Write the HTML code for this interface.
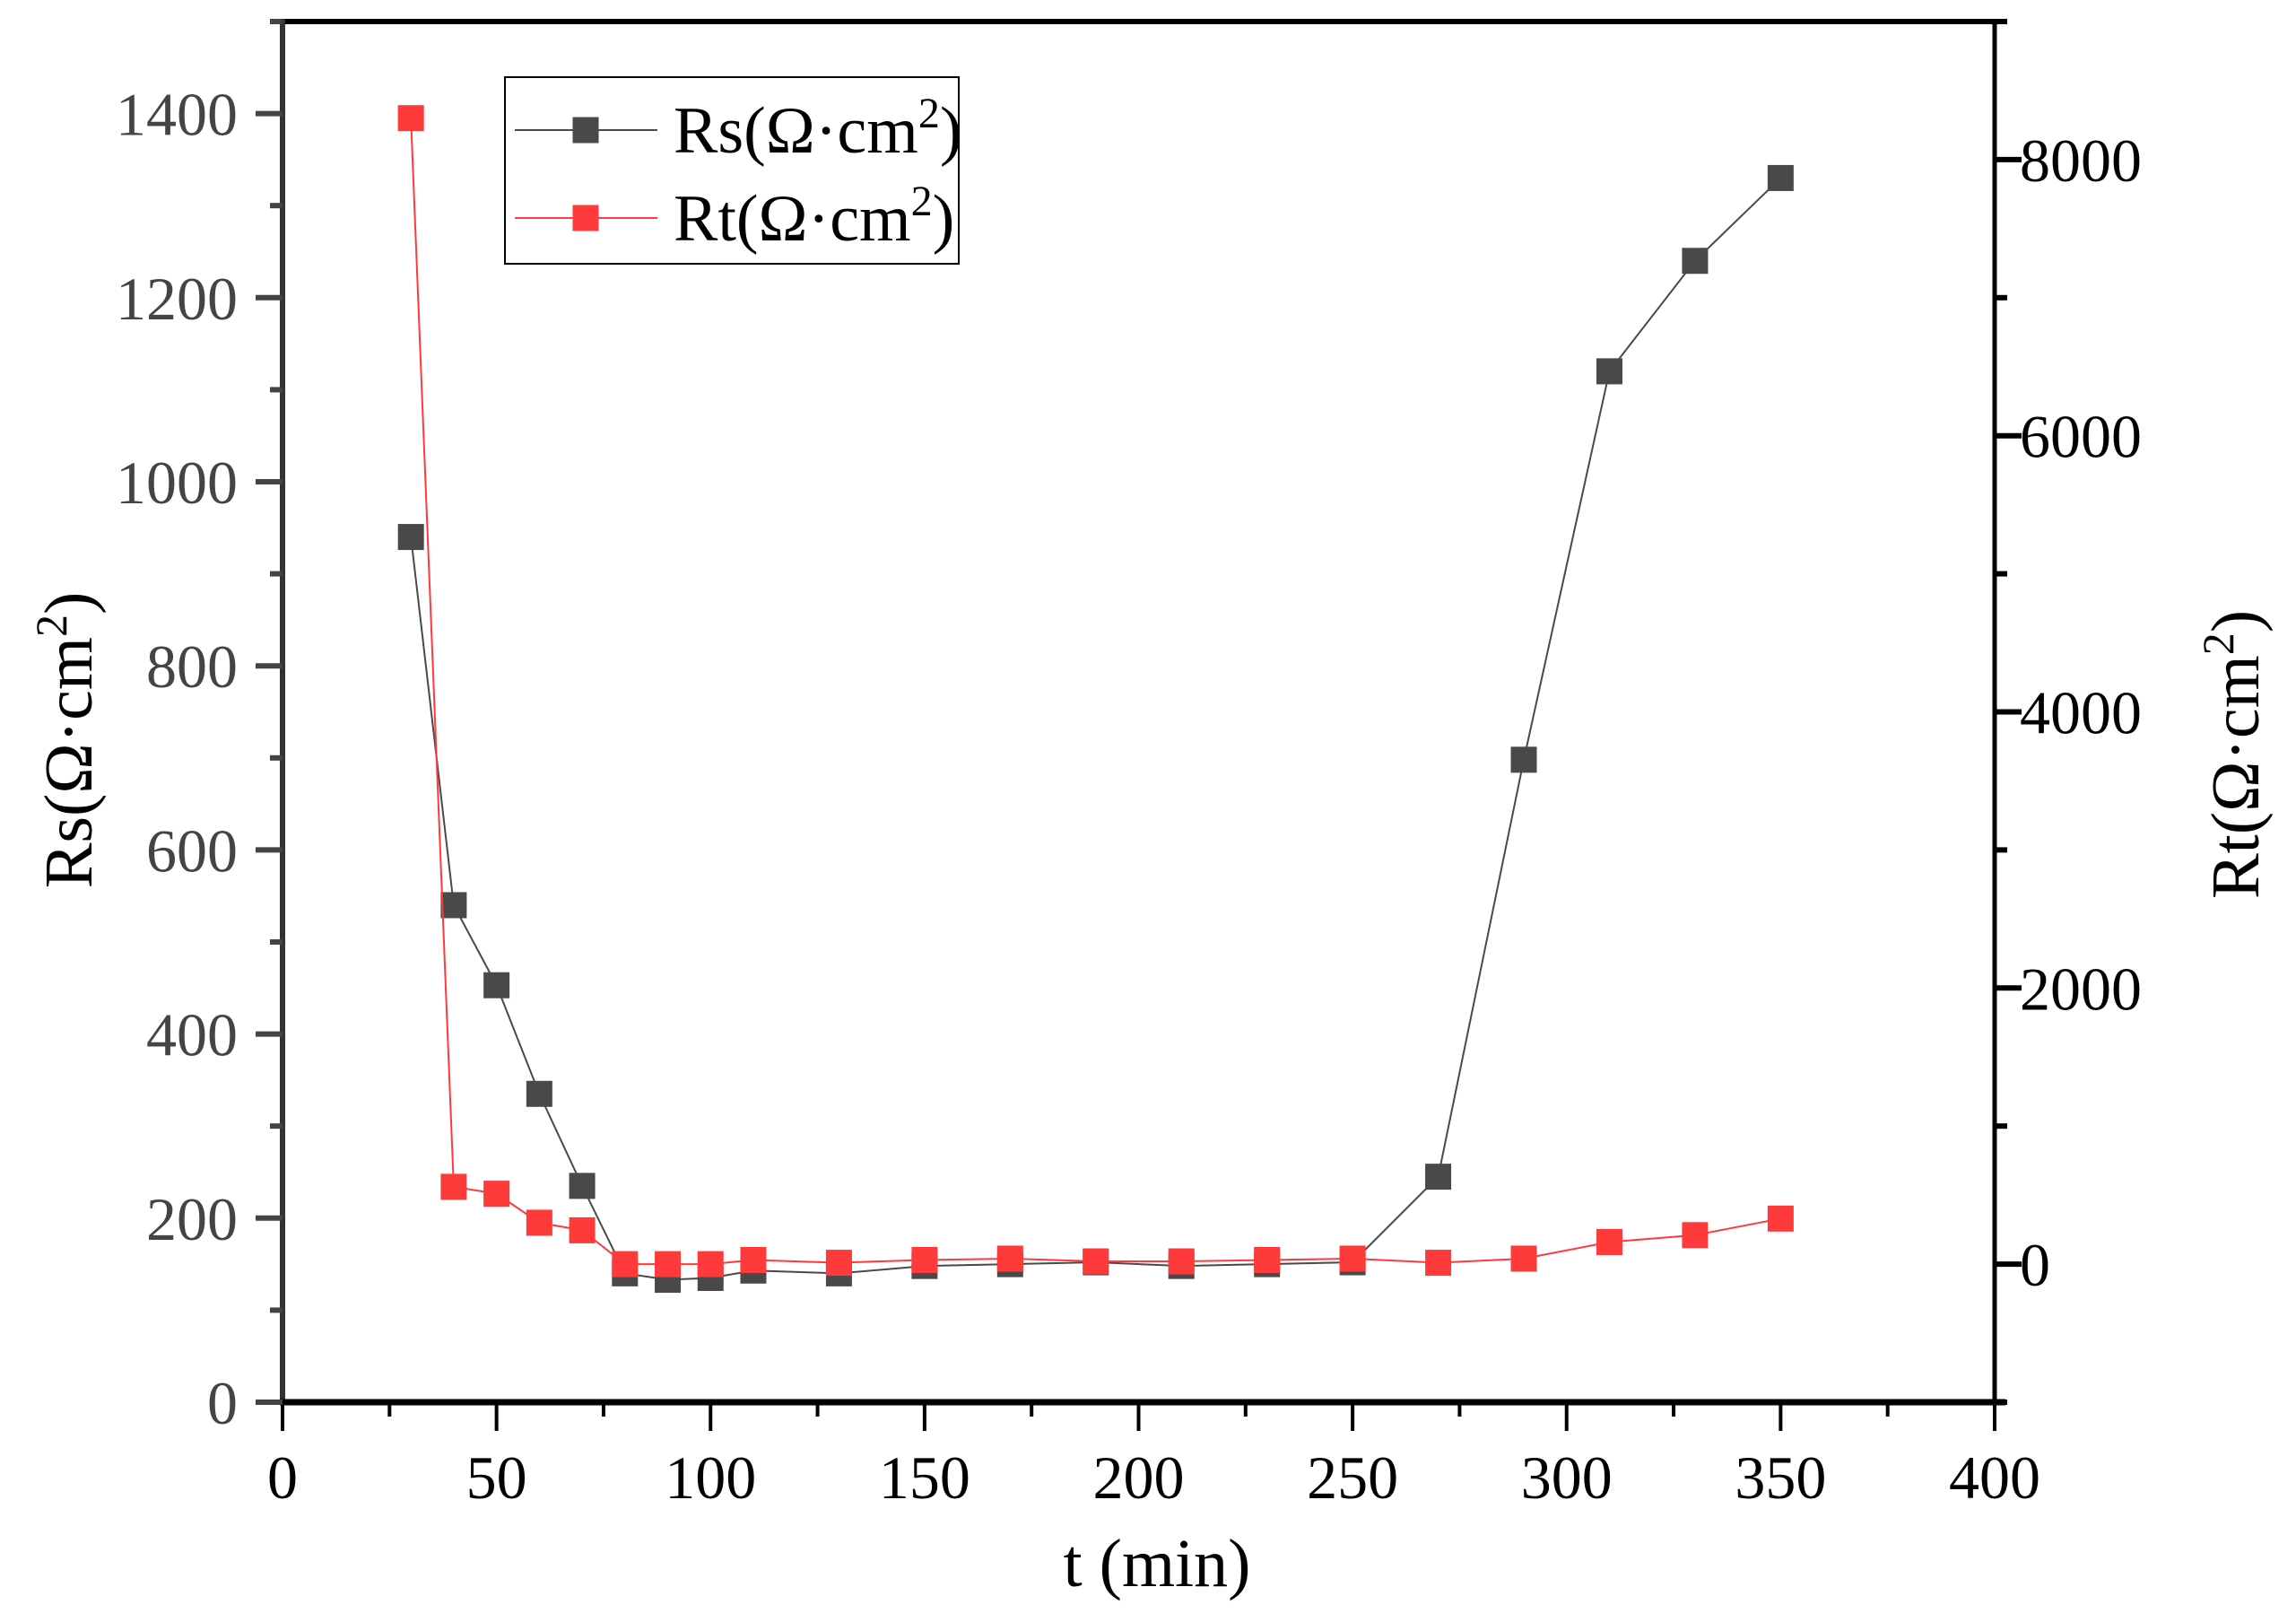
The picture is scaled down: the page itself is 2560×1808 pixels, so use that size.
<!DOCTYPE html>
<html><head><meta charset="utf-8"><style>
html,body{margin:0;padding:0;background:#fff;}
svg{display:block;font-family:"Liberation Serif",serif;}
</style></head><body>
<svg id="chart" width="2560" height="1808" viewBox="0 0 2560 1808" xmlns="http://www.w3.org/2000/svg">
<rect width="2560" height="1808" fill="#fff"/>
<g id="plot"></g>
</svg>
<script>
const times=[30,40,50,60,70,80,90,100,110,130,150,170,190,210,230,250,270,290,310,330,350];
const rsValues=[940,540,453,335,235,140,133,135,143,140,148,150,152,148,150,152,245,698,1120,1240,1330];
const rtValues=[8300,560,510,300,245,0,0,0,30,10,30,40,20,20,30,40,10,40,160,210,330];
const xTicks=[0,50,100,150,200,250,300,350,400];
const yLeftTicks=[0,200,400,600,800,1000,1200,1400];
const yRightTicks=[0,2000,4000,6000,8000];

const L=315,R=2224,T=24,B=1563;
const xS=v=>L+(v-0)/(400-0)*(R-L);
const yL=v=>B-(v-0)/(1500-0)*(B-T);
const yR=v=>B-(v-(-1000))/(9000-(-1000))*(B-T);
const NS='http://www.w3.org/2000/svg';
const g=document.getElementById('plot');
function mk(tag,attrs,parent){const e=document.createElementNS(NS,tag);for(const k in attrs)e.setAttribute(k,attrs[k]);(parent||g).appendChild(e);return e;}

// axes frame
let e;
e=mk('line',{x1:L,y1:T,x2:R+4,y2:T,stroke:'#000','stroke-width':6});


e=mk('line',{x1:R,y1:T-3,x2:R,y2:B+3,stroke:'#000','stroke-width':5});


e=mk('line',{x1:L,y1:T-3,x2:L,y2:B+3,stroke:'#333','stroke-width':6});


e=mk('line',{x1:L-3,y1:B,x2:R+12,y2:B,stroke:'#000','stroke-width':7});



// x ticks
for(let v=0;v<=400;v+=25){
  const major=v%50===0;
  e=mk('line',{x1:xS(v),y1:B,x2:xS(v),y2:B+(major?32:16),stroke:'#000','stroke-width':4});
  
  
}
xTicks.forEach(v=>{
  e=mk('text',{x:xS(v),y:1670,'font-size':68,'text-anchor':'middle',fill:'#000'});
  e.textContent=v;
  
  
});
// left ticks
for(let v=0;v<=1500;v+=100){
  const major=v%200===0;
  e=mk('line',{x1:L,y1:yL(v),x2:L-(major?30:14),y2:yL(v),stroke:'#444','stroke-width':6});
  
  
}
yLeftTicks.forEach(v=>{
  e=mk('text',{x:265,y:yL(v)+24,'font-size':68,'text-anchor':'end',fill:'#444'});
  e.textContent=v;
  
  
});
// right ticks
for(let v=-1000;v<=9000;v+=1000){
  const major=v%2000===0;
  e=mk('line',{x1:R,y1:yR(v),x2:R+(major?30:14),y2:yR(v),stroke:'#000','stroke-width':6});
  
  
}
yRightTicks.forEach(v=>{
  e=mk('text',{x:2252,y:yR(v)+24,'font-size':68,'text-anchor':'start',fill:'#000'});
  e.textContent=v;
  
  
});

// axis titles
e=mk('text',{x:1290,y:1768,'font-size':76,'text-anchor':'middle',fill:'#000'});
e.textContent='t (min)';


e=mk('text',{x:0,y:0,'font-size':76,'text-anchor':'middle',fill:'#000',transform:'translate(102,825) rotate(-90)'});
e.innerHTML='Rs(Ω·cm<tspan dy="-28" font-size="50">2</tspan><tspan dy="28">)</tspan>';


e=mk('text',{x:0,y:0,'font-size':76,'text-anchor':'middle',fill:'#000',transform:'translate(2518,841) rotate(-90)'});
e.innerHTML='Rt(Ω·cm<tspan dy="-28" font-size="50">2</tspan><tspan dy="28">)</tspan>';



// series
const M=29;
function series(vals,ys,color,name){
  const pts=times.map((t,i)=>xS(t)+','+ys(vals[i])).join(' ');
  e=mk('polyline',{points:pts,fill:'none',stroke:color,'stroke-width':2});
  
  
  times.forEach((t,i)=>{
    e=mk('rect',{x:xS(t)-M/2,y:ys(vals[i])-M/2,width:M,height:M,fill:color});
    
    
  });
}
series(rsValues,yL,'#494949','rs');
series(rtValues,yR,'#ff3a3a','rt');

// legend
e=mk('rect',{x:563,y:86,width:506,height:208,fill:'#fff',stroke:'#000','stroke-width':2});


[['Rs','#494949',145,'legend-entry-rs'],['Rt','#ff3a3a',243,'legend-entry-rt']].forEach(([n,c,y,nm])=>{
  e=mk('line',{x1:574,y1:y,x2:733,y2:y,stroke:c,'stroke-width':2});
  
  
  e=mk('rect',{x:653-M/2,y:y-M/2,width:M,height:M,fill:c});
  
  
  e=mk('text',{x:751,y:y+25,'font-size':74,fill:'#000'});
  e.innerHTML=n+'(Ω·cm<tspan dy="-28" font-size="48">2</tspan><tspan dy="28">)</tspan>';
  
  
});
</script>
</body></html>
